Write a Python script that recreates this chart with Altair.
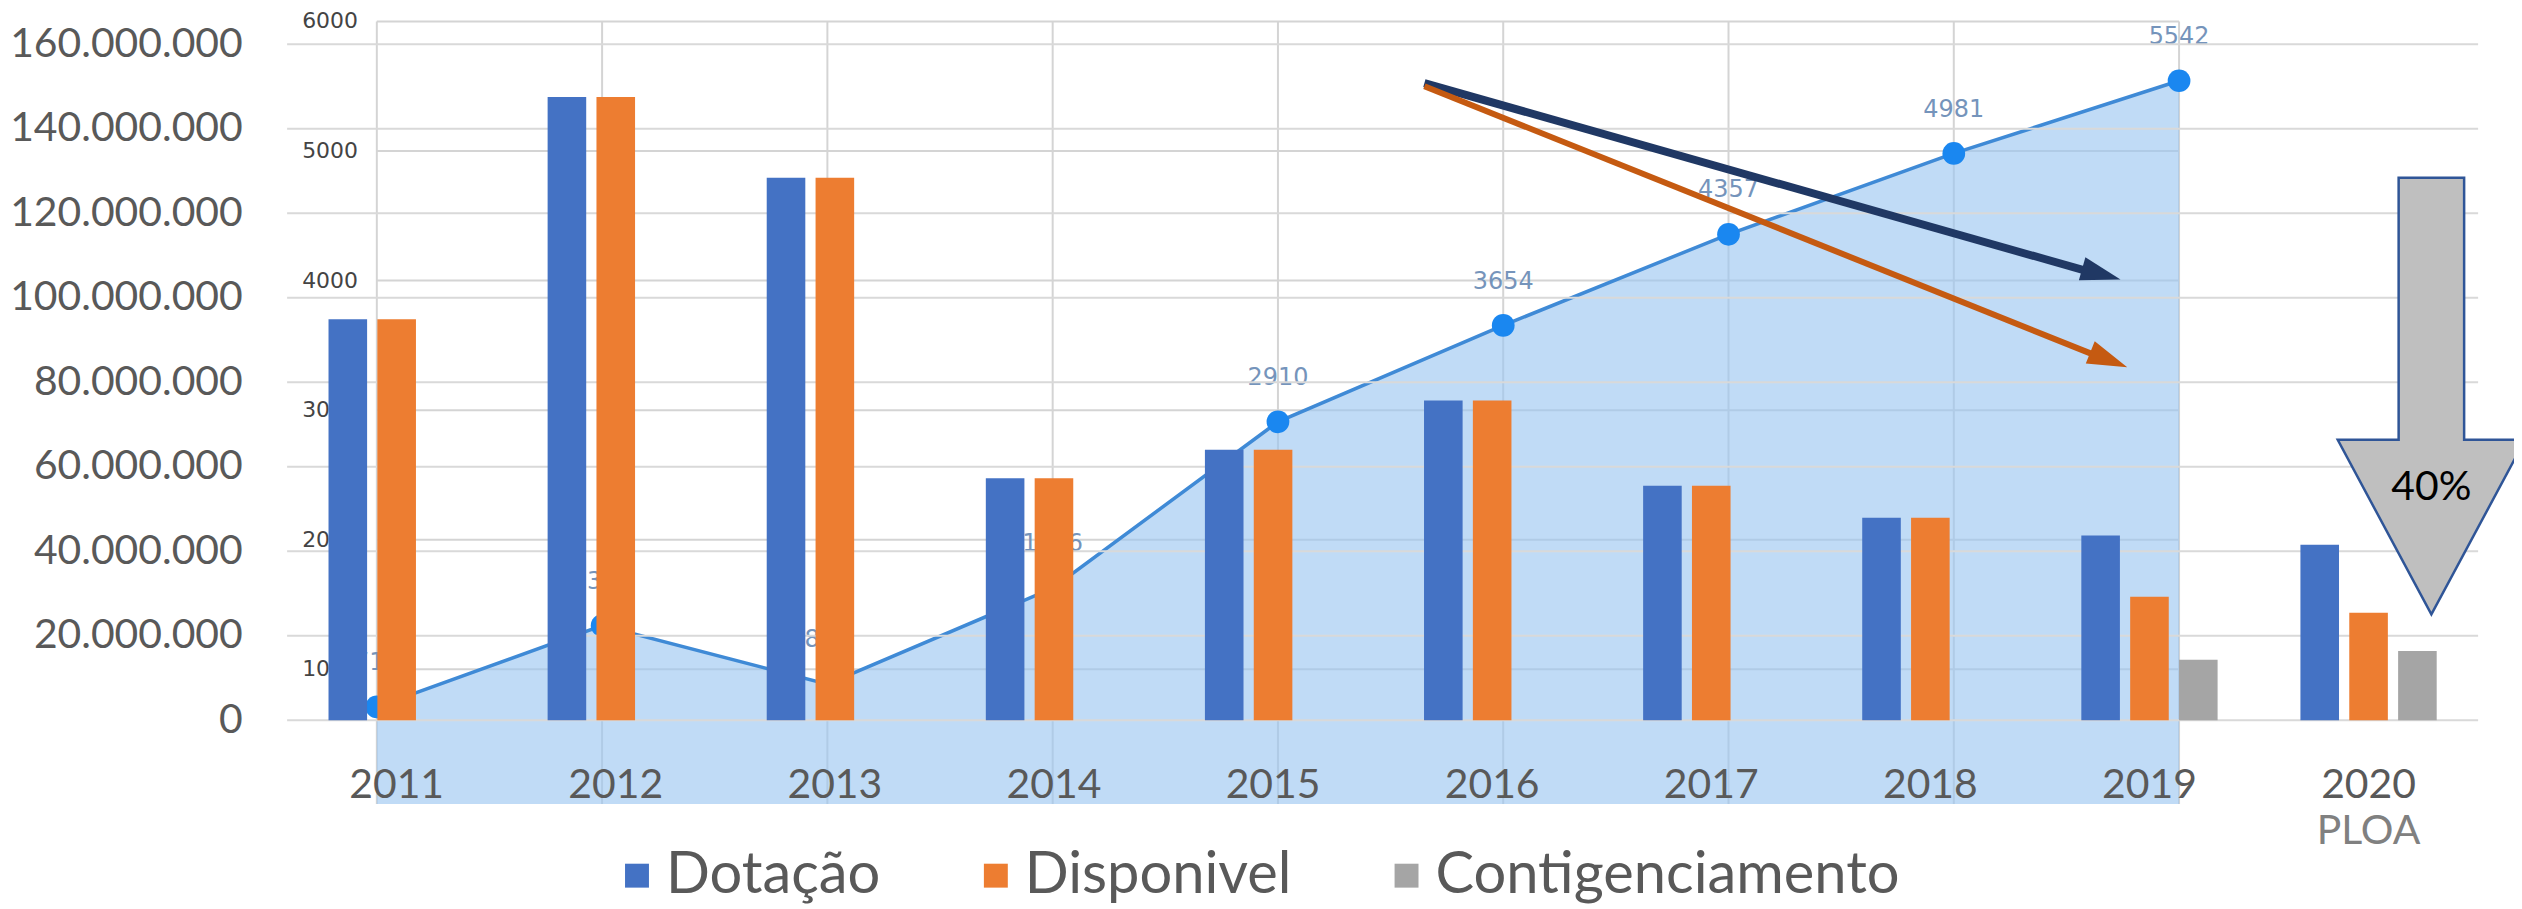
import altair as alt
import pandas as pd

# ---------------- main bar chart data ----------------
years = ["2011", "2012", "2013", "2014", "2015", "2016", "2017", "2018", "2019", "2020"]
dotacao = [94.9e6, 147.5e6, 128.4e6, 57.3e6, 64.0e6, 75.7e6, 55.5e6, 47.9e6, 43.7e6, 41.5e6]
disponivel = [94.9e6, 147.5e6, 128.4e6, 57.3e6, 64.0e6, 75.7e6, 55.5e6, 47.9e6, 29.2e6, 25.4e6]
contig = [None, None, None, None, None, None, None, None, 14.3e6, 16.4e6]
series = ["Dotação", "Disponivel", "Contigenciamento"]
series_colors = ["#4472C4", "#ED7D31", "#A5A5A5"]
y_ticks = [0, 20e6, 40e6, 60e6, 80e6, 100e6, 120e6, 140e6, 160e6]
extra_label_year = ["2020"]
extra_label_text = ["PLOA"]

# ---------------- background (pasted) area chart data ----------------
bg_years = [2011, 2012, 2013, 2014, 2015, 2016, 2017, 2018, 2019]
bg_values = [710, 1338, 885, 1626, 2910, 3654, 4357, 4981, 5542]
bg_ticks = [1000, 2000, 3000, 4000, 5000, 6000]

# ---------------- annotation arrows (in background-chart units) ----------------
arrow_x0 = [2015.65, 2015.65]
arrow_y0 = [5523, 5500]
arrow_x1 = [2018.60, 2018.64]
arrow_y1 = [4069, 3415]
arrow_tip_x = [2018.74, 2018.77]
arrow_tip_y = [4008, 3331]
arrow_angle = [15.8, 21.9]
arrow_colors = ["#203864", "#C55A11"]
arrow_widths = [8, 6]
down_arrow_x = [2020.12]
down_arrow_y = [3108]
down_text_y = [2400]
down_text = ["40%"]

rows = []
for i, y in enumerate(years):
    for s, vals in zip(series, [dotacao, disponivel, contig]):
        if vals[i] is not None:
            rows.append({"year": y, "series": s, "value": vals[i]})
bars_df = pd.DataFrame(rows)

W, H = 2198, 678
FONT = "Lato"
GRAY = "#595959"

x_scale = alt.Scale(domain=years, paddingInner=0.378, paddingOuter=0.189)
y_scale = alt.Scale(domain=[0, 160e6], nice=False, zero=True)
x_axis = alt.Axis(title=None, orient="bottom", labelFont=FONT, labelFontSize=41,
                  labelColor=GRAY, labelPadding=46, ticks=False, domain=False,
                  grid=False, labelAngle=0, zindex=1, labelLimit=400)
y_axis = alt.Axis(title=None, orient="left", values=y_ticks,
                  labelExpr="replace(format(datum.value, ','), regexp(',', 'g'), '.')",
                  labelFont=FONT, labelFontSize=41, labelColor=GRAY, labelPadding=45,
                  ticks=False, domain=False, grid=False, labelLimit=400)

bgx = alt.Scale(domain=[2011, 2019], range=[90, 1898], nice=False, zero=False)
bgy = alt.Scale(domain=[0, 6000], range=[757, -23], nice=False, zero=False)

# ---------------- background chart layers ----------------
bg_df = pd.DataFrame({"yr": bg_years, "val": bg_values})
bg_tick_df = pd.DataFrame({"v": bg_ticks})

bg_grid_h = alt.Chart(bg_tick_df).mark_rule(color="#d4d4d4", strokeWidth=2).encode(
    x=alt.XDatum(2011, type="quantitative", scale=bgx, axis=None),
    x2=alt.X2Datum(2019),
    y=alt.Y("v:Q", scale=bgy, axis=None),
)
bg_grid_v = alt.Chart(bg_df).mark_rule(color="#d4d4d4", strokeWidth=2).encode(
    x=alt.X("yr:Q", scale=bgx, axis=None),
    y=alt.YDatum(6000, type="quantitative", scale=bgy, axis=None),
    y2=alt.Y2Datum(-40),
)
bg_area = alt.Chart(bg_df).mark_area(color="#99c5f0", opacity=0.62).encode(
    x=alt.X("yr:Q", scale=bgx, axis=None),
    y=alt.Y("val:Q", scale=bgy, axis=None),
    y2=alt.Y2Datum(-40),
)
bg_line = alt.Chart(bg_df).mark_line(color="#3f8ad6", strokeWidth=3.5).encode(
    x=alt.X("yr:Q", scale=bgx, axis=None),
    y=alt.Y("val:Q", scale=bgy, axis=None),
)
bg_points = alt.Chart(bg_df).mark_circle(color="#1a87f0", size=520, opacity=1).encode(
    x=alt.X("yr:Q", scale=bgx, axis=None),
    y=alt.Y("val:Q", scale=bgy, axis=None),
)
bg_labels = alt.Chart(bg_df).mark_text(dy=-44, font="DejaVu Sans", fontSize=24,
                                        color="#7594bb").encode(
    x=alt.X("yr:Q", scale=bgx, axis=None),
    y=alt.Y("val:Q", scale=bgy, axis=None),
    text=alt.Text("val:Q"),
)
bg_axis_labels = alt.Chart(bg_tick_df).mark_text(align="right", dx=-19, font="DejaVu Sans",
                                                  fontSize=22, color="#444444").encode(
    x=alt.XDatum(2011, type="quantitative", scale=bgx, axis=None),
    y=alt.Y("v:Q", scale=bgy, axis=None),
    text=alt.Text("v:Q"),
)
bg_layer = alt.layer(bg_grid_h, bg_grid_v, bg_area, bg_line, bg_points, bg_labels, bg_axis_labels)

# ---------------- main chart layers ----------------
grid = alt.Chart(pd.DataFrame({"v": y_ticks})).mark_rule(color="#d9d9d9", strokeWidth=2).encode(
    y=alt.Y("v:Q", scale=y_scale, axis=y_axis),
)
bars = alt.Chart(bars_df).mark_bar().encode(
    x=alt.X("year:N", scale=x_scale, axis=x_axis, sort=years),
    xOffset=alt.XOffset("series:N", scale=alt.Scale(domain=series, paddingInner=0.21, paddingOuter=0)),
    y=alt.Y("value:Q", scale=y_scale, axis=y_axis),
    color=alt.Color("series:N", scale=alt.Scale(domain=series, range=series_colors),
                    legend=alt.Legend(title=None, orient="none", legendX=322, legendY=805,
                                      direction="horizontal", symbolType="square",
                                      symbolSize=576, symbolStrokeWidth=0, symbolOpacity=1,
                                      labelFont=FONT, labelFontSize=58, labelColor=GRAY,
                                      labelOffset=0, columnPadding=86, labelLimit=1000)),
)
ploa = alt.Chart(pd.DataFrame({"year": extra_label_year, "t": extra_label_text})).mark_text(
    font=FONT, fontSize=41, color="#808080", baseline="alphabetic"
).encode(
    x=alt.X("year:N", scale=x_scale, axis=x_axis, sort=years),
    y=alt.value(802),
    text="t:N",
)
main_layer = alt.layer(grid, bars, ploa)

# ---------------- annotations ----------------
annots = []
for i in range(len(arrow_x0)):
    a_df = pd.DataFrame({"x0": [arrow_x0[i]], "y0": [arrow_y0[i]], "x1": [arrow_x1[i]],
                         "y1": [arrow_y1[i]], "tx": [arrow_tip_x[i]], "ty": [arrow_tip_y[i]],
                         "ang": [arrow_angle[i]]})
    shaft = alt.Chart(a_df).mark_rule(color=arrow_colors[i], strokeWidth=arrow_widths[i],
                                      strokeCap="butt").encode(
        x=alt.X("x0:Q", scale=bgx, axis=None), x2="x1:Q",
        y=alt.Y("y0:Q", scale=bgy, axis=None), y2="y1:Q",
    )
    head = alt.Chart(a_df).mark_point(shape="M -2 -0.6 L 0 0 L -2 0.6 Z", size=1600,
                                      filled=True, fill=arrow_colors[i], opacity=1,
                                      strokeWidth=0).encode(
        x=alt.X("tx:Q", scale=bgx, axis=None),
        y=alt.Y("ty:Q", scale=bgy, axis=None),
        angle=alt.Angle("ang:Q", scale=None),
    )
    annots += [shaft, head]

down_df = pd.DataFrame({"x": down_arrow_x, "y": down_arrow_y, "ty": down_text_y, "t": down_text})
down_arrow = alt.Chart(down_df).mark_point(
    shape="M -0.15 -1 L 0.15 -1 L 0.15 0.2 L 0.429 0.2 L 0 1 L -0.429 0.2 L -0.15 0.2 Z",
    size=191844, filled=True, fill="#BFBFBF", stroke="#2F5597", strokeWidth=2.5, opacity=1,
).encode(
    x=alt.X("x:Q", scale=bgx, axis=None),
    y=alt.Y("y:Q", scale=bgy, axis=None),
)
down_label = alt.Chart(down_df).mark_text(font=FONT, fontSize=41, color="#000000").encode(
    x=alt.X("x:Q", scale=bgx, axis=None),
    y=alt.Y("ty:Q", scale=bgy, axis=None),
    text="t:N",
)
annot_layer = alt.layer(*annots, down_arrow, down_label)

chart = alt.layer(bg_layer, main_layer, annot_layer).resolve_scale(
    x="independent", y="independent"
).properties(
    width=W, height=H,
    padding={"left": 280, "top": 35, "right": 36, "bottom": 188},
    autosize=alt.AutoSizeParams(type="none"),
    background="white",
).configure_view(stroke=None)

chart.save("out.html", embed_options={"renderer": "svg", "actions": False})
